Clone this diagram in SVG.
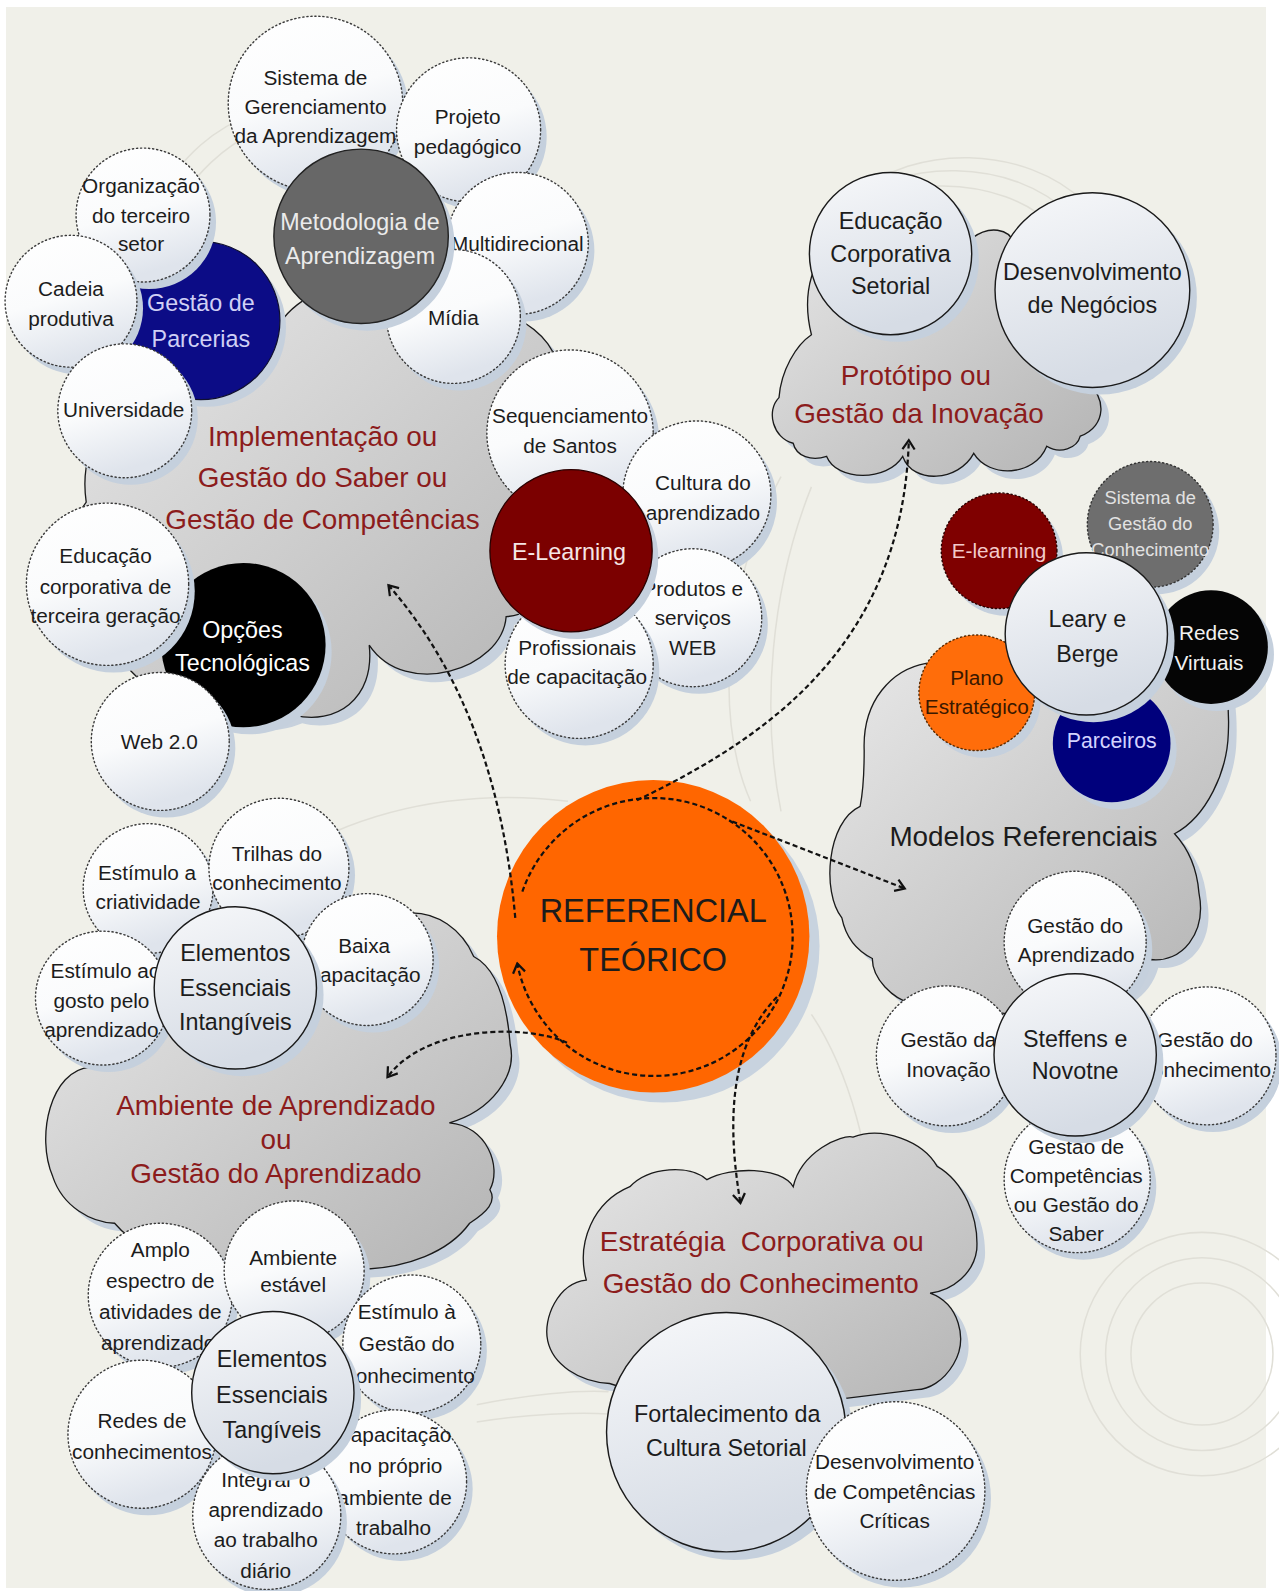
<svg xmlns="http://www.w3.org/2000/svg" width="1279" height="1591" viewBox="0 0 1279 1591">
<defs>
<linearGradient id="gW" x1="0" y1="0" x2="0.3" y2="1"><stop offset="0" stop-color="#ffffff"/><stop offset="0.55" stop-color="#fafbfc"/><stop offset="1" stop-color="#dfe4ec"/></linearGradient>
<linearGradient id="gL" x1="0" y1="0" x2="0.3" y2="1"><stop offset="0" stop-color="#f7f8fa"/><stop offset="1" stop-color="#d6dce5"/></linearGradient>
<linearGradient id="gC" x1="0" y1="0" x2="1" y2="1"><stop offset="0" stop-color="#e8e8e8"/><stop offset="1" stop-color="#b3b3b3"/></linearGradient>
<marker id="ah" viewBox="-12 -8 14 16" refX="0" refY="0" markerWidth="14" markerHeight="16" markerUnits="userSpaceOnUse" orient="auto"><path d="M-9,-6 L0,0 L-9,6" fill="none" stroke="#111" stroke-width="2.2"/></marker>
<style>
.sh{fill:#c5d0dd}
.cw{fill:url(#gW);stroke:#3a3a3a;stroke-width:1.4;stroke-dasharray:1.2 2.8;stroke-linecap:round}
.cl{fill:url(#gL);stroke:#1a1a1a;stroke-width:1.4}
.cloud{fill:url(#gC);stroke:#1a1a1a;stroke-width:1.3}
.csh{fill:#c7d1dd}
.t{font-family:"Liberation Sans",Arial,sans-serif;font-size:20.5px;fill:#1c1c1c;text-anchor:middle;dominant-baseline:central}
.m{font-size:23px}
.h{font-size:27.5px;fill:#8c1c1c}
.con{fill:none;stroke:#111;stroke-width:2.2;stroke-dasharray:5 3}
.arc{fill:none;stroke:#e0dfd7;stroke-width:1.5}
</style>
<path id="cl1" d="M 85,495 C 80,460 90,430 110,418 C 120,350 220,300 268,335 C 290,270 400,260 430,310 C 480,290 552,320 552,375 C 578,410 580,490 545,540 C 555,580 530,605 499,608 C 495,660 400,690 364,636 C 370,690 330,715 290,705 C 230,730 130,690 110,630 C 70,610 65,520 85,495 Z"/>
<path id="cl2" d="M 782,437 C 762,432 755,405 768,392 C 770,365 785,340 800,330 C 790,290 800,250 830,235 C 880,190 950,200 958,235 C 975,222 995,225 1000,240 C 1050,210 1100,260 1075,310 C 1090,340 1090,370 1072,378 C 1090,390 1092,420 1065,430 C 1062,442 1045,448 1032,440 C 1020,470 975,472 960,447 C 945,475 900,478 890,450 C 875,475 825,475 815,450 C 800,455 785,450 782,437 Z"/>
<path id="cl3" d="M 913,654 C 880,660 850,690 852,740 C 852,770 850,785 848,795 C 815,810 810,880 830,905 C 835,930 850,940 860,945 C 860,965 880,985 900,990 L 1000,1000 C 1060,1000 1120,995 1134,946 C 1165,950 1190,920 1182,880 C 1180,855 1170,835 1158,822 C 1190,805 1210,760 1211,723 C 1212,700 1210,680 1205,664 C 1150,650 1000,650 913,654 Z"/>
<path id="cl4" d="M 89,1052 C 50,1055 35,1120 52,1160 C 62,1190 90,1205 113,1206 C 150,1250 230,1255 260,1230 C 300,1260 420,1265 463,1206 C 480,1195 490,1185 483,1173 C 495,1150 480,1110 443,1107 C 485,1095 510,1060 503,1030 C 500,990 490,955 467,943 C 455,915 430,900 406,900 C 370,900 320,905 290,912 C 250,920 190,905 150,910 C 110,915 90,950 88,990 C 86,1020 86,1040 89,1052 Z"/>
<path id="cl5" d="M 578,1262 C 568,1225 585,1185 621,1170 C 640,1150 680,1148 697,1163 C 720,1150 770,1150 782,1170 C 790,1135 830,1118 841,1121 C 870,1110 910,1125 924,1150 C 950,1165 965,1200 963,1232 C 960,1255 940,1272 917,1275 C 945,1285 955,1320 940,1345 C 930,1362 915,1370 904,1370 L 700,1395 L 601,1364 C 570,1362 545,1345 540,1322 C 535,1300 550,1265 578,1262 Z"/>
</defs>
<rect x="0" y="0" width="1279" height="1591" fill="#ffffff"/>
<rect x="6" y="7" width="1260" height="1581" fill="#f0f0e9"/>
<g transform="scale(1.0143)">
<g id="bg-arcs">
<path class="arc" d="M 815,222 C 870,170 990,170 1040,225"/>
<path class="arc" d="M 830,205 C 885,155 1000,155 1055,212"/>
<path class="arc" d="M 845,192 C 900,142 1010,142 1070,200"/>
<path class="arc" d="M 150,205 C 180,150 215,125 250,112"/>
<path class="arc" d="M 160,225 C 190,170 225,140 258,128"/>
<circle class="arc" cx="1185" cy="1335" r="70"/>
<circle class="arc" cx="1185" cy="1335" r="95"/>
<circle class="arc" cx="1185" cy="1335" r="120"/>
<path class="arc" d="M 470,1385 C 520,1375 570,1370 600,1372"/>
<path class="arc" d="M 470,1402 C 520,1394 570,1392 600,1394"/>
<path class="arc" d="M 770,470 C 720,560 700,700 740,790"/>
<path class="arc" d="M 800,480 C 760,580 750,700 770,800"/>
<path class="arc" d="M 330,820 C 400,790 480,780 560,790"/>
<path class="arc" d="M 800,1000 C 840,1060 860,1150 855,1180"/>
</g>
<g id="cloud-implementacao">
<use href="#cl1" class="csh" transform="translate(8,8)"/>
<use href="#cl1" class="cloud"/>
<text class="t h" x="318" y="430">Implementação ou</text>
<text class="t h" x="318" y="471">Gestão do Saber ou</text>
<text class="t h" x="318" y="512">Gestão de Competências</text>
</g>
<g id="cloud-prototipo">
<use href="#cl2" class="csh" transform="translate(8,8)"/>
<use href="#cl2" class="cloud"/>
<text class="t h" x="903" y="370">Protótipo ou</text>
<text class="t h" x="906" y="408">Gestão da Inovação</text>
</g>
<g id="cloud-modelos">
<use href="#cl3" class="csh" transform="translate(8,8)"/>
<use href="#cl3" class="cloud"/>
<text class="t h" x="1009" y="825" style="fill:#1c1c1c">Modelos Referenciais</text>
</g>
<g id="cloud-ambiente">
<use href="#cl4" class="csh" transform="translate(8,8)"/>
<use href="#cl4" class="cloud"/>
<text class="t h" x="272" y="1090">Ambiente de Aprendizado</text>
<text class="t h" x="272" y="1123">ou</text>
<text class="t h" x="272" y="1157">Gestão do Aprendizado</text>
</g>
<g id="cloud-estrategia">
<use href="#cl5" class="csh" transform="translate(8,8)"/>
<use href="#cl5" class="cloud"/>
<text class="t h" x="751" y="1224" xml:space="preserve">Estratégia  Corporativa ou</text>
<text class="t h" x="750" y="1265">Gestão do Conhecimento</text>
</g>
<g id="n-referencial">
<circle cx="654" cy="933" r="154" fill="#c8d3df"/>
<circle cx="644" cy="923" r="154" fill="#ff6600"/>
<text class="t" x="644" y="898" style="font-size:32px">REFERENCIAL</text>
<text class="t" x="644" y="946" style="font-size:32px">TEÓRICO</text>
</g>
<g id="n-parcerias"><circle class="sh" cx="204" cy="323" r="78"/><circle cx="198" cy="316" r="78" fill="#0c0c86" stroke="#101030" stroke-width="1.2"/><text class="t m" x="198" y="299" style="fill:#d0d0f5">Gestão de</text><text class="t m" x="198" y="334" style="fill:#d0d0f5">Parcerias</text></g>
<g id="n-organizacao"><circle class="sh" cx="147" cy="219" r="66"/><circle class="cw" cx="141" cy="212" r="66"/><text class="t" x="139" y="183">Organização</text><text class="t" x="139" y="212">do terceiro</text><text class="t" x="139" y="240">setor</text></g>
<g id="n-cadeia"><circle class="sh" cx="76" cy="304" r="65"/><circle class="cw" cx="70" cy="297" r="65"/><text class="t" x="70" y="284">Cadeia</text><text class="t" x="70" y="314">produtiva</text></g>
<g id="n-universidade"><circle class="sh" cx="129" cy="412" r="66"/><circle class="cw" cx="123" cy="405" r="66"/><text class="t" x="122" y="404">Universidade</text></g>
<g id="n-sistema"><circle class="sh" cx="317" cy="109" r="86"/><circle class="cw" cx="311" cy="102" r="86"/><text class="t" x="311" y="76">Sistema de</text><text class="t" x="311" y="105">Gerenciamento</text><text class="t" x="311" y="134">da Aprendizagem</text></g>
<g id="n-projeto"><circle class="sh" cx="468" cy="135" r="71"/><circle class="cw" cx="462" cy="128" r="71"/><text class="t" x="461" y="115">Projeto</text><text class="t" x="461" y="144">pedagógico</text></g>
<g id="n-multidirecional"><circle class="sh" cx="516" cy="247" r="70"/><circle class="cw" cx="510" cy="240" r="70"/><text class="t" x="510" y="240">Multidirecional</text></g>
<g id="n-midia"><circle class="sh" cx="453" cy="319" r="66"/><circle class="cw" cx="447" cy="312" r="66"/><text class="t" x="447" y="313">Mídia</text></g>
<g id="n-metodologia"><circle class="sh" cx="362" cy="240" r="86"/><circle cx="356" cy="233" r="86" fill="#676767" stroke="#222" stroke-width="1.4"/><text class="t m" x="355" y="219" style="fill:#ebebeb">Metodologia de</text><text class="t m" x="355" y="252" style="fill:#ebebeb">Aprendizagem</text></g>
<g id="n-sequenciamento"><circle class="sh" cx="568" cy="434" r="82"/><circle class="cw" cx="562" cy="427" r="82"/><text class="t" x="562" y="410">Sequenciamento</text><text class="t" x="562" y="439">de Santos</text></g>
<g id="n-cultura"><circle class="sh" cx="693" cy="495" r="73"/><circle class="cw" cx="687" cy="488" r="73"/><text class="t" x="693" y="476">Cultura do</text><text class="t" x="693" y="505">aprendizado</text></g>
<g id="n-produtos"><circle class="sh" cx="689" cy="616" r="68"/><circle class="cw" cx="683" cy="609" r="68"/><text class="t" x="683" y="580">Produtos e</text><text class="t" x="683" y="609">serviços</text><text class="t" x="683" y="638">WEB</text></g>
<g id="n-profissionais"><circle class="sh" cx="577" cy="662" r="73"/><circle class="cw" cx="571" cy="655" r="73"/><text class="t" x="569" y="638">Profissionais</text><text class="t" x="569" y="667">de capacitação</text></g>
<g id="n-elearning"><circle class="sh" cx="569" cy="550" r="80"/><circle cx="563" cy="543" r="80" fill="#7b0000" stroke="#2a0000" stroke-width="1.3"/><text class="t m" x="561" y="544" style="fill:#f5e6e6">E-Learning</text></g>
<g id="n-opcoes"><circle class="sh" cx="246" cy="643" r="81"/><circle cx="240" cy="636" r="81" fill="#000000"/><text class="t m" x="239" y="621" style="fill:#ffffff">Opções</text><text class="t m" x="239" y="654" style="fill:#ffffff">Tecnológicas</text></g>
<g id="n-educacao3"><circle class="sh" cx="112" cy="583" r="80"/><circle class="cw" cx="106" cy="576" r="80"/><text class="t" x="104" y="548">Educação</text><text class="t" x="104" y="578">corporativa de</text><text class="t" x="104" y="607">terceira geração</text></g>
<g id="n-web"><circle class="sh" cx="164" cy="738" r="68"/><circle class="cw" cx="158" cy="731" r="68"/><text class="t" x="157" y="731">Web 2.0</text></g>
<g id="n-educacaosetorial"><circle class="sh" cx="885" cy="257" r="80"/><circle class="cl" cx="878" cy="250" r="80"/><text class="t m" x="878" y="218">Educação</text><text class="t m" x="878" y="250">Corporativa</text><text class="t m" x="878" y="282">Setorial</text></g>
<g id="n-desenvneg"><circle class="sh" cx="1084" cy="293" r="96"/><circle class="cl" cx="1077" cy="286" r="96"/><text class="t m" x="1077" y="268">Desenvolvimento</text><text class="t m" x="1077" y="301">de Negócios</text></g>
<g id="n-sgc"><circle class="sh" cx="1140" cy="524" r="62"/><circle cx="1134" cy="517" r="62" fill="#6e6e6e" stroke="#333" stroke-width="1.4" stroke-dasharray="1.2 2.8" stroke-linecap="round"/><text class="t" x="1134" y="490" style="font-size:18px;fill:#e2e2e2">Sistema de</text><text class="t" x="1134" y="516" style="font-size:18px;fill:#e2e2e2">Gestão do</text><text class="t" x="1134" y="542" style="font-size:18px;fill:#e2e2e2">Conhecimento</text></g>
<g id="n-elearning2"><circle class="sh" cx="991" cy="550" r="57"/><circle cx="985" cy="543" r="57" fill="#7f0000" stroke="#2a0000" stroke-width="1.4" stroke-dasharray="1.2 2.8" stroke-linecap="round"/><text class="t" x="985" y="543" style="fill:#f3caca">E-learning</text></g>
<g id="n-redes"><circle class="sh" cx="1200" cy="645" r="56"/><circle cx="1194" cy="638" r="56" fill="#050505"/><text class="t" x="1192" y="624" style="fill:#f2f2f2">Redes</text><text class="t" x="1192" y="653" style="fill:#f2f2f2">Virtuais</text></g>
<g id="n-plano"><circle class="sh" cx="969" cy="690" r="57"/><circle cx="963" cy="683" r="57" fill="#ff6d0a" stroke="#5a2a00" stroke-width="1.4" stroke-dasharray="1.2 2.8" stroke-linecap="round"/><text class="t" x="963" y="668" style="fill:#3a1800">Plano</text><text class="t" x="963" y="697" style="fill:#3a1800">Estratégico</text></g>
<g id="n-parceiros"><circle class="sh" cx="1102" cy="740" r="58"/><circle cx="1096" cy="733" r="58" fill="#00007c"/><text class="t" x="1096" y="731" style="font-size:21px;fill:#d3d3ff">Parceiros</text></g>
<g id="n-leary"><circle class="sh" cx="1078" cy="632" r="80"/><circle class="cl" cx="1071" cy="625" r="80"/><text class="t m" x="1072" y="610">Leary e</text><text class="t m" x="1072" y="645">Berge</text></g>
<g id="n-gestaoaprendizado"><circle class="sh" cx="1066" cy="936" r="70"/><circle class="cw" cx="1060" cy="929" r="70"/><text class="t" x="1060" y="912">Gestão do</text><text class="t" x="1061" y="941">Aprendizado</text></g>
<g id="n-gestaoinovacao"><circle class="sh" cx="939" cy="1048" r="69"/><circle class="cw" cx="933" cy="1041" r="69"/><text class="t" x="935" y="1025">Gestão da</text><text class="t" x="935" y="1054">Inovação</text></g>
<g id="n-gestaoconhecimento"><circle class="sh" cx="1196" cy="1048" r="68"/><circle class="cw" cx="1190" cy="1041" r="68"/><text class="t" x="1188" y="1025">Gestão do</text><text class="t" x="1187" y="1054">Conhecimento</text></g>
<g id="n-gestaocompetencias"><circle class="sh" cx="1068" cy="1170" r="72"/><circle class="cw" cx="1062" cy="1163" r="72"/><text class="t" x="1061" y="1130">Gestão de</text><text class="t" x="1061" y="1159">Competências</text><text class="t" x="1061" y="1188">ou Gestão do</text><text class="t" x="1061" y="1216">Saber</text></g>
<g id="n-steffens"><circle class="sh" cx="1067" cy="1047" r="80"/><circle class="cl" cx="1060" cy="1040" r="80"/><text class="t m" x="1060" y="1024">Steffens e</text><text class="t m" x="1060" y="1056">Novotne</text></g>
<g id="n-estcriatividade"><circle class="sh" cx="152" cy="883" r="64"/><circle class="cw" cx="146" cy="876" r="64"/><text class="t" x="145" y="860">Estímulo a</text><text class="t" x="146" y="889">criatividade</text></g>
<g id="n-trilhas"><circle class="sh" cx="281" cy="863" r="69"/><circle class="cw" cx="275" cy="856" r="69"/><text class="t" x="273" y="841">Trilhas do</text><text class="t" x="273" y="870">conhecimento</text></g>
<g id="n-baixa"><circle class="sh" cx="368" cy="953" r="65"/><circle class="cw" cx="362" cy="946" r="65"/><text class="t" x="359" y="932">Baixa</text><text class="t" x="360" y="961">capacitação</text></g>
<g id="n-estgosto"><circle class="sh" cx="107" cy="991" r="66"/><circle class="cw" cx="101" cy="984" r="66"/><text class="t" x="104" y="957">Estímulo ao</text><text class="t" x="100" y="986">gosto pelo</text><text class="t" x="100" y="1015">aprendizado</text></g>
<g id="n-elemintangiveis"><circle class="sh" cx="239" cy="981" r="80"/><circle class="cl" cx="232" cy="974" r="80"/><text class="t m" x="232" y="940">Elementos</text><text class="t m" x="232" y="974">Essenciais</text><text class="t m" x="232" y="1008">Intangíveis</text></g>
<g id="n-amplo"><circle class="sh" cx="164" cy="1284" r="71"/><circle class="cw" cx="158" cy="1277" r="71"/><text class="t" x="158" y="1232">Amplo</text><text class="t" x="158" y="1262">espectro de</text><text class="t" x="158" y="1293">atividades de</text><text class="t" x="156" y="1324">aprendizado</text></g>
<g id="n-ambienteestavel"><circle class="sh" cx="296" cy="1260" r="69"/><circle class="cw" cx="290" cy="1253" r="69"/><text class="t" x="289" y="1240">Ambiente</text><text class="t" x="289" y="1266">estável</text></g>
<g id="n-estgestao"><circle class="sh" cx="412" cy="1332" r="68"/><circle class="cw" cx="406" cy="1325" r="68"/><text class="t" x="401" y="1293">Estímulo à</text><text class="t" x="401" y="1325">Gestão do</text><text class="t" x="402" y="1356">Conhecimento</text></g>
<g id="n-redesconhecimentos"><circle class="sh" cx="146" cy="1421" r="73"/><circle class="cw" cx="140" cy="1414" r="73"/><text class="t" x="140" y="1400">Redes de</text><text class="t" x="140" y="1431">conhecimentos</text></g>
<g id="n-capacitacao"><circle class="sh" cx="395" cy="1468" r="71"/><circle class="cw" cx="389" cy="1461" r="71"/><text class="t" x="388" y="1414">Capacitação</text><text class="t" x="390" y="1445">no próprio</text><text class="t" x="389" y="1476">ambiente de</text><text class="t" x="388" y="1506">trabalho</text></g>
<g id="n-integrar"><circle class="sh" cx="269" cy="1501" r="73"/><circle class="cw" cx="263" cy="1494" r="73"/><text class="t" x="262" y="1459">Integrar o</text><text class="t" x="262" y="1488">aprendizado</text><text class="t" x="262" y="1518">ao trabalho</text><text class="t" x="262" y="1548">diário</text></g>
<g id="n-elemtangiveis"><circle class="sh" cx="276" cy="1380" r="80"/><circle class="cl" cx="269" cy="1373" r="80"/><text class="t m" x="268" y="1340">Elementos</text><text class="t m" x="268" y="1375">Essenciais</text><text class="t m" x="268" y="1410">Tangíveis</text></g>
<g id="n-fortalecimento"><circle class="sh" cx="724" cy="1420" r="118"/><circle class="cl" cx="716" cy="1412" r="118"/><text class="t m" x="717" y="1394">Fortalecimento da</text><text class="t m" x="716" y="1428">Cultura Setorial</text></g>
<g id="n-desenvcompetencias"><circle class="sh" cx="889" cy="1477" r="88"/><circle class="cw" cx="883" cy="1470" r="88"/><text class="t" x="882" y="1441">Desenvolvimento</text><text class="t" x="882" y="1470">de Competências</text><text class="t" x="882" y="1499">Críticas</text></g>
<g id="connectors">
<path class="con" d="M 515,879 A 137 137 0 1 1 510,950" marker-end="url(#ah)"/>
<path class="con" d="M 508,905 Q 490,700 383,577" marker-end="url(#ah)"/>
<path class="con" d="M 628,789 C 750,730 890,640 896,434" marker-end="url(#ah)"/>
<path class="con" d="M 722,810 Q 805,842 892,876" marker-end="url(#ah)"/>
<path class="con" d="M 559,1028 C 520,1010 420,1010 382,1062" marker-end="url(#ah)"/>
<path class="con" d="M 766,983 C 730,1020 712,1080 730,1186" marker-end="url(#ah)"/>
</g>
</g>
</svg>
